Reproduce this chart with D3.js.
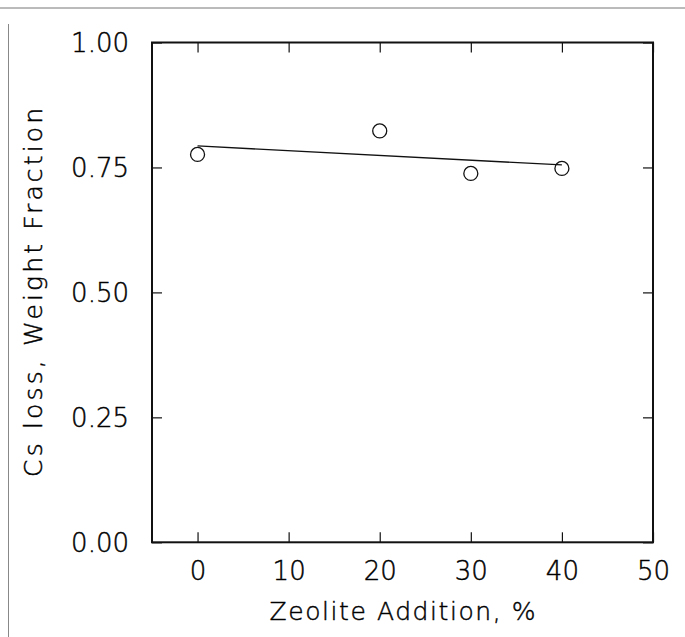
<!DOCTYPE html>
<html>
<head>
<meta charset="utf-8">
<script src="https://cdn.jsdelivr.net/npm/d3@7"></script>
<style>
  html, body { margin: 0; padding: 0; background: #fff; }
  svg { display: block; }
  text { font-family: "DejaVu Sans", sans-serif; font-weight: 200; fill: #000;
         stroke: #000; stroke-width: 0.45px; }
</style>
</head>
<body>
<script>
// Measured Cs loss versus zeolite addition
const zeolitePct = [0, 20, 30, 40];
const csLoss = [0.776, 0.823, 0.738, 0.748];

// Straight-line fit through the measurements (end points)
const fitPct = [0, 40];
const fitLoss = [0.793, 0.755];

// Axis ticks
const xTicks = [0, 10, 20, 30, 40, 50];
const yTicks = [0.00, 0.25, 0.50, 0.75, 1.00];

const W = 685, H = 637;
const plot = { left: 152, right: 653, top: 42.5, bottom: 542.3 };

const svg = d3.select("body").append("svg")
  .attr("width", W).attr("height", H);

// page edges of the scanned sheet
svg.append("line")
  .attr("x1", 0).attr("x2", W).attr("y1", 8).attr("y2", 8)
  .attr("stroke", "#777").attr("stroke-width", 1);
svg.append("line")
  .attr("x1", 8.5).attr("x2", 8.5).attr("y1", 24).attr("y2", H)
  .attr("stroke", "#888").attr("stroke-width", 1);

const x = d3.scaleLinear().domain([-5, 50]).range([plot.left, plot.right]);
const y = d3.scaleLinear().domain([0, 1]).range([plot.bottom, plot.top]);

const tickStyle = g => {
  g.select(".domain").remove();
  g.selectAll(".tick line").attr("stroke", "#111").attr("stroke-width", 1.2);
  g.selectAll(".tick text").attr("font-size", 26).attr("fill", "#000")
    .attr("font-family", "DejaVu Sans, sans-serif").attr("font-weight", 200);
};

// bottom axis with labels
svg.append("g")
  .attr("transform", `translate(0,${plot.bottom})`)
  .call(d3.axisBottom(x).tickValues(xTicks).tickSize(-10).tickPadding(19.5)
    .tickFormat(d3.format("d")))
  .call(tickStyle);

// top axis, ticks only
svg.append("g")
  .attr("transform", `translate(0,${plot.top})`)
  .call(d3.axisTop(x).tickValues(xTicks).tickSize(-10).tickFormat(""))
  .call(tickStyle);

// left axis with labels
svg.append("g")
  .attr("transform", `translate(${plot.left},0)`)
  .call(d3.axisLeft(y).tickValues(yTicks).tickSize(-10).tickPadding(23)
    .tickFormat(d3.format(".2f")))
  .call(tickStyle)
  .call(g => g.selectAll(".tick text").attr("dy", "0.36em"));

// right axis, ticks only
svg.append("g")
  .attr("transform", `translate(${plot.right},0)`)
  .call(d3.axisRight(y).tickValues(yTicks).tickSize(-10).tickFormat(""))
  .call(tickStyle);

// plot frame
svg.append("rect")
  .attr("x", plot.left).attr("y", plot.top)
  .attr("width", plot.right - plot.left).attr("height", plot.bottom - plot.top)
  .attr("fill", "none").attr("stroke", "#111").attr("stroke-width", 2);

// fitted line
const fit = fitPct.map((p, i) => [p, fitLoss[i]]);
svg.append("path")
  .datum(fit)
  .attr("d", d3.line().x(d => x(d[0])).y(d => y(d[1])))
  .attr("fill", "none").attr("stroke", "#111").attr("stroke-width", 1.3);

// open circle markers
svg.append("g").selectAll("circle")
  .data(zeolitePct.map((p, i) => [p, csLoss[i]]))
  .join("circle")
  .attr("cx", d => x(d[0])).attr("cy", d => y(d[1]))
  .attr("r", 7)
  .attr("fill", "none").attr("stroke", "#111").attr("stroke-width", 1.3);

// axis titles
svg.append("text")
  .attr("x", (plot.left + plot.right) / 2).attr("y", 620)
  .attr("text-anchor", "middle")
  .attr("font-size", 25)
  .attr("textLength", 266).attr("lengthAdjust", "spacing")
  .text("Zeolite Addition, %");

svg.append("text")
  .attr("transform", `translate(41.5,${(plot.top + plot.bottom) / 2}) rotate(-90)`)
  .attr("text-anchor", "middle")
  .attr("font-size", 25)
  .attr("textLength", 369).attr("lengthAdjust", "spacing")
  .text("Cs loss, Weight Fraction");
</script>
</body>
</html>
